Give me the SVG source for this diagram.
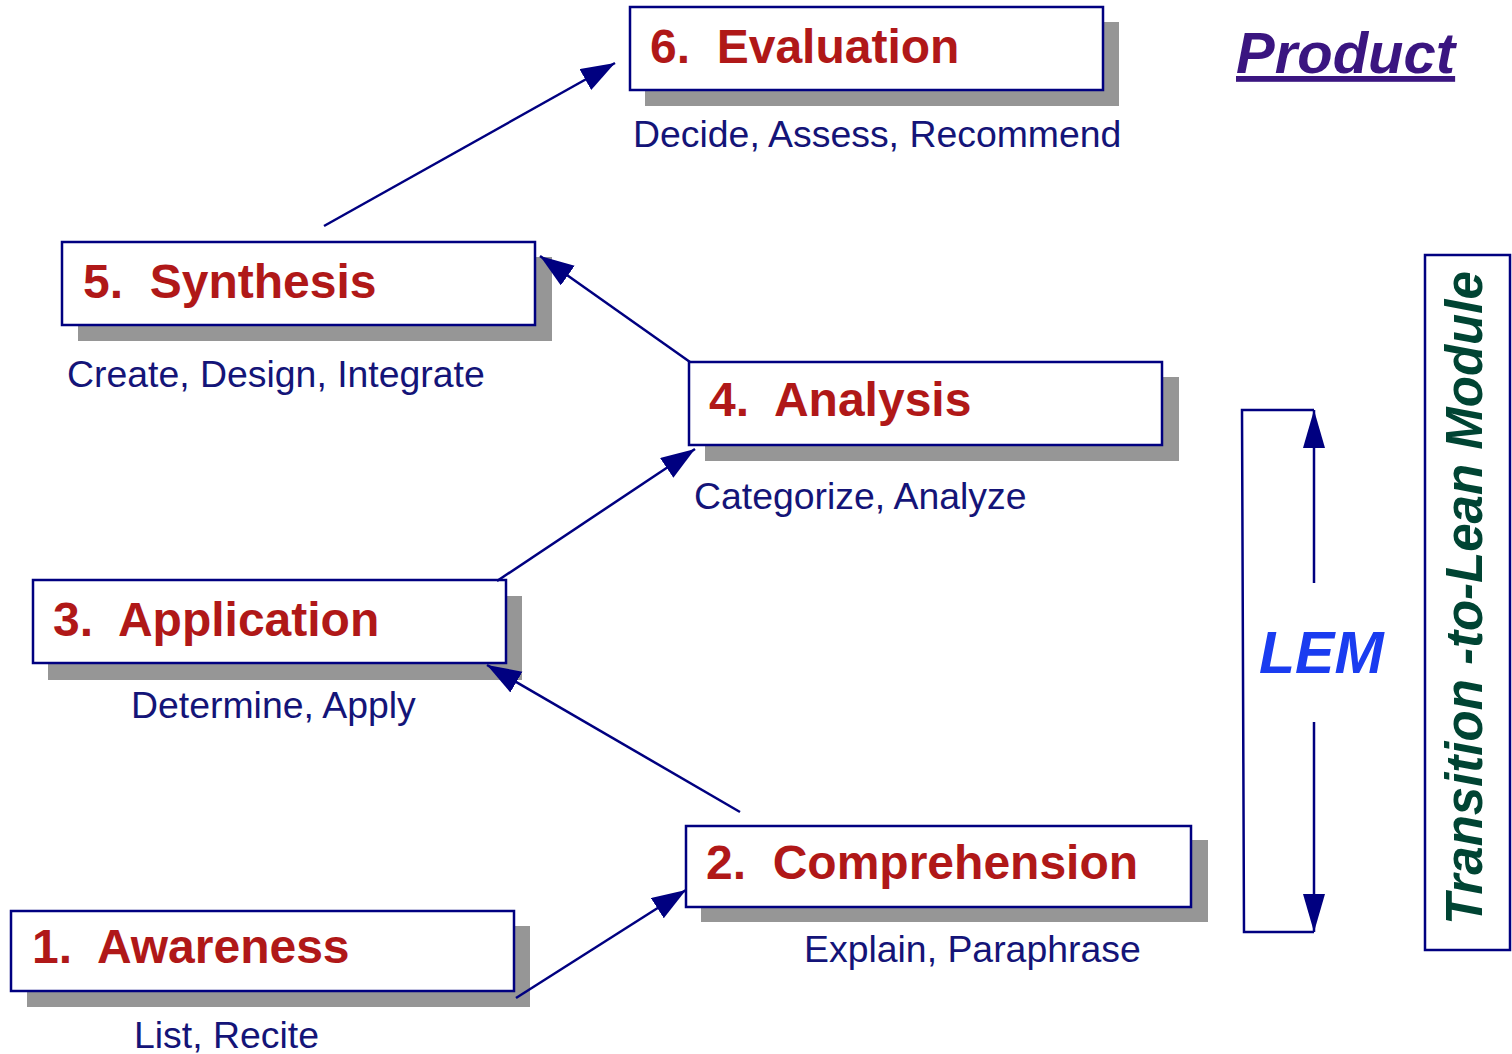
<svg xmlns="http://www.w3.org/2000/svg" width="1512" height="1054" viewBox="0 0 1512 1054">
<style>
.shadow{fill:#969696}
.box{fill:#ffffff;stroke:#000080;stroke-width:2.5}
.title{font-family:"Liberation Sans",Arial,sans-serif;font-weight:bold;font-size:48px;fill:#b01818;white-space:pre}
.sub{font-family:"Liberation Sans",Arial,sans-serif;font-size:37.4px;fill:#141478}
.conn{stroke:#000080;stroke-width:2.5;fill:none}
</style>
<defs>
<marker id="ah" markerUnits="userSpaceOnUse" markerWidth="36" markerHeight="26" refX="34" refY="12" orient="auto">
<path d="M0,0 L34,12 L0,24 z" fill="#000080"/>
</marker>
<marker id="ah2" markerUnits="userSpaceOnUse" markerWidth="40" markerHeight="24" refX="38" refY="11" orient="auto">
<path d="M0,0 L38,11 L0,22 z" fill="#000080"/>
</marker>
</defs>
<rect width="1512" height="1054" fill="#ffffff"/>

<g id="node6">
<rect class="shadow" x="645" y="22" width="474" height="84"/>
<rect class="box" x="630" y="7" width="473" height="83"/>
<text class="title" x="650" y="63">6.  Evaluation</text>
<text class="sub" x="633" y="147">Decide, Assess, Recommend</text>
</g>
<g id="node5">
<rect class="shadow" x="78" y="257" width="474" height="84"/>
<rect class="box" x="62" y="242" width="473" height="83"/>
<text class="title" x="83" y="298">5.  Synthesis</text>
<text class="sub" x="67" y="387">Create, Design, Integrate</text>
</g>
<g id="node4">
<rect class="shadow" x="705" y="377" width="474" height="84"/>
<rect class="box" x="689" y="362" width="473" height="83"/>
<text class="title" x="709" y="416">4.  Analysis</text>
<text class="sub" x="694" y="509">Categorize, Analyze</text>
</g>
<g id="node3">
<rect class="shadow" x="48" y="596" width="474" height="84"/>
<rect class="box" x="33" y="580" width="473" height="83"/>
<text class="title" x="53" y="636">3.  Application</text>
<text class="sub" x="131" y="718">Determine, Apply</text>
</g>
<g id="node2">
<rect class="shadow" x="701" y="840" width="507" height="82"/>
<rect class="box" x="686" y="826" width="505" height="81"/>
<text class="title" x="706" y="879">2.  Comprehension</text>
<text class="sub" x="804" y="962">Explain, Paraphrase</text>
</g>
<g id="node1">
<rect class="shadow" x="27" y="926" width="503" height="81"/>
<rect class="box" x="11" y="911" width="503" height="80"/>
<text class="title" x="32" y="963">1.  Awareness</text>
<text class="sub" x="134" y="1048">List, Recite</text>
</g>

<g id="connectors">
<line class="conn" x1="516" y1="998" x2="686" y2="890" marker-end="url(#ah)"/>
<line class="conn" x1="740" y1="812" x2="487" y2="665" marker-end="url(#ah)"/>
<line class="conn" x1="497" y1="581" x2="695" y2="449" marker-end="url(#ah)"/>
<line class="conn" x1="690" y1="362" x2="540" y2="256" marker-end="url(#ah)"/>
<line class="conn" x1="324" y1="226" x2="615" y2="63" marker-end="url(#ah)"/>
</g>

<g id="lem">
<polyline class="conn" points="1314,410 1242,410 1244,932 1314,932"/>
<line class="conn" x1="1314" y1="583" x2="1314" y2="410" marker-end="url(#ah2)"/>
<line class="conn" x1="1314" y1="722" x2="1314" y2="932" marker-end="url(#ah2)"/>
<text x="1259" y="673" font-family="'Liberation Sans',Arial,sans-serif" font-weight="bold" font-style="italic" font-size="59" fill="#1a3cf0">LEM</text>
</g>

<g id="product">
<text x="1236" y="73" font-family="'Liberation Sans',Arial,sans-serif" font-weight="bold" font-style="italic" font-size="58" fill="#3a1580" text-decoration="underline">Product</text>
</g>

<g id="module">
<rect x="1425" y="255" width="85" height="695" fill="#ffffff" stroke="#000080" stroke-width="2.5"/>
<text x="0" y="0" transform="translate(1482,598) rotate(-90)" text-anchor="middle" font-family="'Liberation Sans',Arial,sans-serif" font-weight="bold" font-style="italic" font-size="51" fill="#004433">Transition -to-Lean Module</text>
</g>
</svg>
